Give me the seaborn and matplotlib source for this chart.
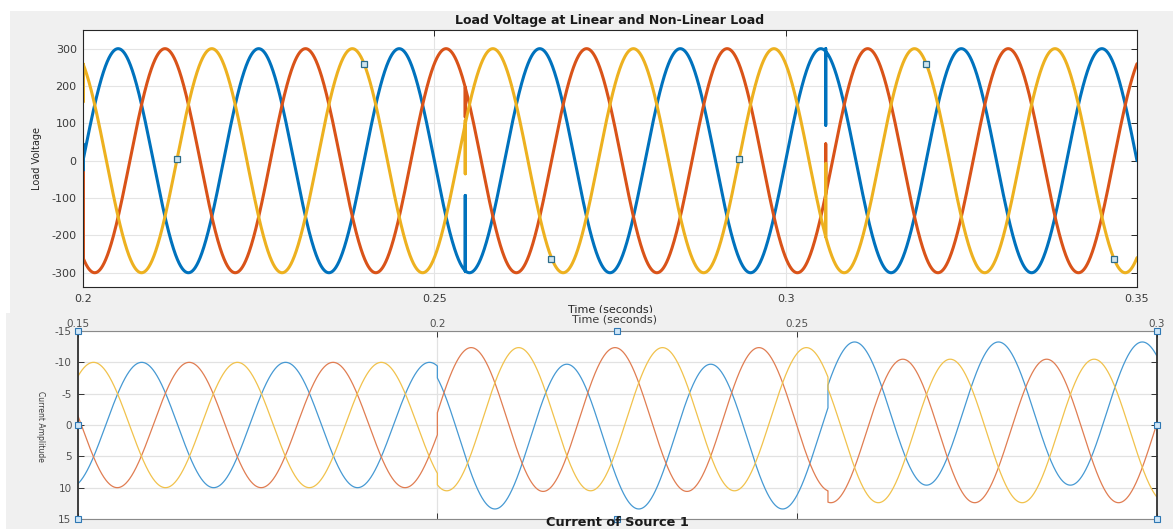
import numpy as np
import pandas as pd
import matplotlib
matplotlib.use("Agg")
import matplotlib.pyplot as plt
from matplotlib.patches import Rectangle
import seaborn as sns

# ---------------------------------------------------------------------------
# Data
# ---------------------------------------------------------------------------
PHASES = ["Phase A", "Phase B", "Phase C"]
LINE_FREQ_HZ = 50.0

# Load voltage at linear and non-linear load
voltage_time_range = [0.20, 0.35]
voltage_peak = [300.0, 300.0, 300.0]
voltage_crest_time = [0.2050, 0.21167, 0.21833]
switch_times = [0.2000, 0.2544, 0.3057]
switch_low = {"Phase A": [-30.0, -296.0, 95.0],
              "Phase B": [-267.0, 117.0, -90.0],
              "Phase C": [157.0, -35.0, -203.0]}
switch_high = {"Phase A": [45.0, -93.0, 300.0],
               "Phase B": [-30.0, 193.0, 45.0],
               "Phase C": [255.0, 108.0, -8.0]}
tip_time = [0.21333, 0.24000, 0.26667, 0.29333, 0.32000, 0.34667]
tip_voltage = [5.0, 258.0, -262.0, 5.0, 258.0, -262.0]
voltage_xticks = [0.20, 0.25, 0.30, 0.35]
voltage_xticklabels = ["0.2", "0.25", "0.3", "0.35"]
voltage_yticks = [-300, -200, -100, 0, 100, 200, 300]

# Current of source 1 (three operating intervals)
current_time_range = [0.15, 0.30]
current_segment_edges = [0.15, 0.2000, 0.2543, 0.30]
current_crest_upper = {"Phase A": [-10.0, -9.7, -13.25],
                       "Phase B": [-10.0, -12.35, -10.5],
                       "Phase C": [-10.0, -12.35, -10.5]}
current_crest_lower = {"Phase A": [10.0, 13.4, 9.6],
                       "Phase B": [10.0, 10.6, 12.4],
                       "Phase C": [10.0, 10.5, 12.4]}
current_crest_time = {"Phase A": [0.1589, 0.2180, 0.2580],
                      "Phase B": [0.1655, 0.2047, 0.2647],
                      "Phase C": [0.1522, 0.2113, 0.2713]}
current_xticks = [0.15, 0.20, 0.25, 0.30]
current_xticklabels = ["0.15", "0.2", "0.25", "0.3"]
current_yticks = [-15, -10, -5, 0, 5, 10, 15]
handle_time = [0.15, 0.15, 0.15, 0.225, 0.225, 0.30, 0.30, 0.30]
handle_level = [-15, 0, 15, -15, 15, -15, 0, 15]


def voltage_frame():
    t_all, v_all, p_all = [], [], []
    bounds = switch_times + [voltage_time_range[1]]
    for i, ph in enumerate(PHASES):
        def wave(t, i=i):
            return voltage_peak[i] * np.cos(2 * np.pi * LINE_FREQ_HZ * (np.asarray(t) - voltage_crest_time[i]))
        for k, t0 in enumerate(switch_times):
            v0 = float(wave(t0))
            tt = np.linspace(t0, bounds[k + 1], 1500)
            t_all += [t0] * 4 + list(tt)
            v_all += [v0, switch_low[ph][k], switch_high[ph][k], v0] + list(wave(tt))
            p_all += [ph] * (4 + len(tt))
    return pd.DataFrame({"time": t_all, "voltage": v_all, "phase": p_all})


def current_frame():
    t_all, c_all, p_all = [], [], []
    for ph in PHASES:
        for k in range(len(current_segment_edges) - 1):
            t0, t1 = current_segment_edges[k], current_segment_edges[k + 1]
            up, lo, tc = current_crest_upper[ph][k], current_crest_lower[ph][k], current_crest_time[ph][k]
            mid, half = (up + lo) / 2.0, (lo - up) / 2.0
            tt = np.linspace(t0, t1, 1200)
            cc = mid - half * np.cos(2 * np.pi * LINE_FREQ_HZ * (tt - tc))
            t_all += list(tt)
            c_all += list(cc)
            p_all += [ph] * len(tt)
    return pd.DataFrame({"time": t_all, "current": c_all, "phase": p_all})


# ---------------------------------------------------------------------------
# Figure
# ---------------------------------------------------------------------------
sns.set_style("white")
plt.rcParams["font.family"] = ["DejaVu Sans"]
plt.rcParams["axes.unicode_minus"] = False

W, H = 1173, 529
fig = plt.figure(figsize=(W / 100, H / 100), dpi=100, facecolor="white")


def fx(px):
    return px / W


def fy(py):
    return 1 - py / H


FRAME_GREY = "#f0f0f0"
fig.add_artist(Rectangle((fx(10), fy(313)), fx(1163), 302 / H, transform=fig.transFigure,
                         facecolor=FRAME_GREY, edgecolor="none", zorder=-1))
fig.add_artist(Rectangle((fx(6), 0), fx(1167), fy(313), transform=fig.transFigure,
                         facecolor=FRAME_GREY, edgecolor="none", zorder=0.5))

# ---- Load voltage -------------------------------------------------------
vpal = {"Phase A": "#0072BD", "Phase B": "#D95319", "Phase C": "#EDB120"}
ax_v = fig.add_axes([fx(83), fy(287.3), fx(1137 - 83), (287.3 - 30) / H])
ax_v.set_facecolor("white")
sns.lineplot(data=voltage_frame(), x="time", y="voltage", hue="phase", palette=vpal,
             sort=False, estimator=None, errorbar=None, linewidth=2.2, legend=False, ax=ax_v)
ax_v.plot(tip_time, tip_voltage, ls="none", marker="s", ms=4.5, mfc="#cfe5ef",
          mec="#2b6c8a", mew=0.9, zorder=5)
ax_v.set_xlim(*voltage_time_range)
ax_v.set_ylim(-339, 350)
ax_v.set_xticks(voltage_xticks)
ax_v.set_xticklabels(voltage_xticklabels)
ax_v.set_yticks(voltage_yticks)
ax_v.grid(True, color="#e4e4e4", linewidth=0.8)
ax_v.set_axisbelow(True)
ax_v.tick_params(direction="in", length=4, width=0.7, top=True, right=True,
                 color="#262626", labelcolor="#3a3a3a", labelsize=8, pad=4.5)
for s in ax_v.spines.values():
    s.set_color("#262626")
    s.set_linewidth(0.8)
ax_v.set_title("Load Voltage at Linear and Non-Linear Load", fontsize=9,
               fontweight="bold", color="#1a1a1a", pad=4)
ax_v.set_ylabel("Load Voltage", fontsize=7, color="#262626")
ax_v.yaxis.set_label_coords(-0.039, 0.5)
ax_v.set_xlabel("Time (seconds)", fontsize=8, color="#262626")
ax_v.xaxis.set_label_coords(0.5, -0.067)

# ---- Current of source 1 ----------------------------------------------------
cpal = {"Phase A": "#4699d3", "Phase B": "#e07d52", "Phase C": "#f1c24c"}
ax_c = fig.add_axes([fx(77.7), fy(519), fx(1079), 188 / H])
ax_c.set_zorder(1)
ax_c.set_facecolor("white")
sns.lineplot(data=current_frame(), x="time", y="current", hue="phase", palette=cpal,
             sort=False, estimator=None, errorbar=None, linewidth=0.9, legend=False, ax=ax_c)
ax_c.plot(handle_time, handle_level, ls="none", marker="s", ms=4, mfc="#cfe6f7",
          mec="#2f78b4", mew=0.8, clip_on=False, zorder=6)
ax_c.set_xlim(*current_time_range)
ax_c.set_ylim(15, -15)
ax_c.xaxis.tick_top()
ax_c.set_xticks(current_xticks)
ax_c.set_xticklabels(current_xticklabels)
ax_c.set_yticks(current_yticks)
ax_c.grid(True, color="#e2e2e2", linewidth=0.9)
ax_c.set_axisbelow(True)
ax_c.tick_params(direction="in", length=4, width=0.7, top=True, bottom=True, left=True,
                 right=True, labeltop=True, labelbottom=False, color="#333333",
                 labelcolor="#505050", labelsize=7.5)
ax_c.tick_params(axis="x", pad=1.5)
ax_c.tick_params(axis="y", pad=4.5)
ax_c.set_xlabel("")
ax_c.set_ylabel("")
for side in ["left", "right"]:
    ax_c.spines[side].set_color("#303030")
    ax_c.spines[side].set_linewidth(1.3)
for side in ["top", "bottom"]:
    ax_c.spines[side].set_color("#8a8a8a")
    ax_c.spines[side].set_linewidth(0.8)

fig.text(fx(614), fy(319.5), "Time (seconds)", fontsize=8, color="#3a3a3a",
         ha="center", va="center", zorder=3)
fig.text(fx(617), fy(522.5), "Current of Source 1", fontsize=9.3, fontweight="bold",
         color="#1a1a1a", ha="center", va="center", zorder=3)
fig.text(fx(40), fy(426), "Current Amplitude", fontsize=5.5, color="#3a3a3a",
         rotation=-90, ha="center", va="center", zorder=3)

fig.savefig("out.png", dpi=100, facecolor="white")
